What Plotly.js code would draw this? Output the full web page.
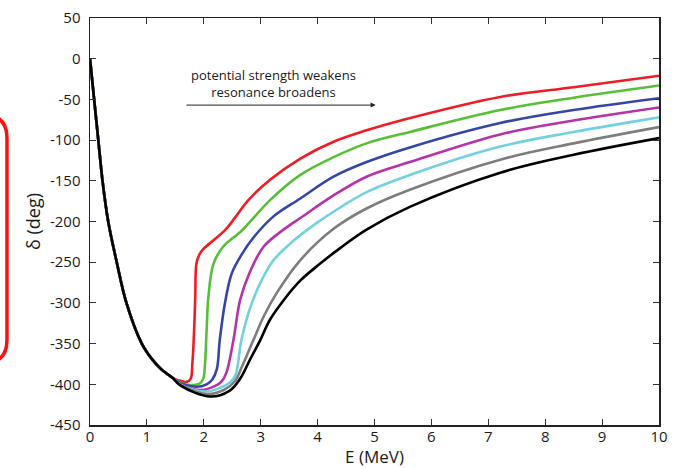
<!DOCTYPE html>
<html>
<head>
<meta charset="utf-8">
<script src="https://cdn.plot.ly/plotly-3.0.1.min.js"></script>
<style>html,body{margin:0;padding:0;background:#fff;}#chart{width:677px;height:468px;}</style>
</head>
<body>
<div id="chart"></div>
<script>
// Shared low-energy descent (all curves coincide here)
const commonE = [0, 0.07, 0.146, 0.22, 0.32, 0.47, 0.64, 0.91, 1.1, 1.26, 1.45];
const commonD = [0, -48, -100, -150, -200, -250, -300, -350, -370, -382, -392];

// Per-curve values beyond the common descent
const redE = [1.60, 1.70, 1.77, 1.80, 1.83, 1.85, 1.87, 1.92, 1.99, 2.17, 2.37, 2.52, 2.78, 3.16, 3.69, 4.28, 4.86, 5.51, 7.21, 8.5, 10];
const redD = [-396, -397, -393, -374, -333, -293, -252, -241, -234, -223, -211, -198, -174, -149, -123, -102, -88, -75, -47, -35, -21];

const greenE = [1.60, 1.76, 1.93, 1.99, 2.02, 2.05, 2.08, 2.17, 2.34, 2.67, 3.16, 3.69, 4.28, 4.86, 5.62, 7.21, 8.5, 10];
const greenD = [-398, -401, -399, -393, -376, -333, -293, -252, -231, -211, -174, -143, -121, -104, -90, -63, -48, -33];

const blueE = [1.60, 1.87, 2.05, 2.15, 2.23, 2.28, 2.37, 2.49, 2.67, 2.87, 3.22, 3.69, 4.28, 4.86, 5.62, 7.21, 8.5, 10];
const blueD = [-399, -403, -400, -394, -381, -346, -301, -264, -240, -220, -194, -172, -145, -127, -109, -79, -63, -48.5];

const magentaE = [1.60, 1.96, 2.20, 2.32, 2.40, 2.52, 2.64, 2.81, 3.05, 3.40, 3.69, 4.28, 4.86, 5.62, 7.21, 8.5, 10];
const magentaD = [-400, -407, -402, -396, -385, -346, -296, -262, -231, -210, -196, -168, -145, -127, -93, -76, -60];

const cyanE = [1.60, 2.02, 2.30, 2.45, 2.55, 2.66, 2.81, 2.99, 3.22, 3.57, 3.98, 4.28, 4.86, 5.62, 7.21, 8.5, 10];
const cyanD = [-401, -409, -404, -398, -390, -346, -307, -276, -248, -224, -202, -188, -164, -143, -108, -90, -72];

const grayE = [1.60, 2.05, 2.35, 2.55, 2.66, 2.87, 3.05, 3.28, 3.69, 4.28, 4.86, 5.62, 7.21, 8.5, 10];
const grayD = [-401, -412, -407, -396, -380, -346, -317, -288, -248, -209, -184, -161, -124, -104, -84];

const blackE = [1.60, 2.11, 2.45, 2.64, 2.81, 2.99, 3.16, 3.40, 3.69, 4.04, 4.39, 4.86, 5.62, 7.21, 8.5, 10];
const blackD = [-402, -415, -408, -393, -370, -346, -321, -297, -273, -252, -233, -210, -182, -140, -118, -97.5];

const xTicks = [0, 1, 2, 3, 4, 5, 6, 7, 8, 9, 10];
const yTicks = [50, 0, -50, -100, -150, -200, -250, -300, -350, -400, -450];
const yTickText = ['50', '0', '-50', '-100', '-150', '-200', '-250', '-300', '-350', '-400', '-450'];

const series = [
  {name: 'red', E: redE, D: redD, color: '#ee1c25'},
  {name: 'green', E: greenE, D: greenD, color: '#56bf37'},
  {name: 'blue', E: blueE, D: blueD, color: '#3546a6'},
  {name: 'magenta', E: magentaE, D: magentaD, color: '#b533a8'},
  {name: 'cyan', E: cyanE, D: cyanD, color: '#72d1dc'},
  {name: 'gray', E: grayE, D: grayD, color: '#7d7d7d'},
  {name: 'black', E: blackE, D: blackD, color: '#000000'}
];

const traces = series.map(s => ({
  type: 'scatter',
  mode: 'lines',
  name: s.name,
  x: commonE.concat(s.E),
  y: commonD.concat(s.D),
  line: {color: s.color, width: 2.6, shape: 'spline', smoothing: 1},
  hoverinfo: 'skip',
  showlegend: false
}));

// paper coords helpers for the decorative red box (plot area: px 90..659, py 18..425)
const L = 90, R = 659, T = 18, B = 425;
const px = v => ((v - L) / (R - L)).toFixed(4);
const py = v => ((B - v) / (B - T)).toFixed(4);
const boxPath = `M ${px(-40)},${py(115)} L ${px(-16)},${py(115)} Q ${px(7)},${py(115)} ${px(7)},${py(138)} ` +
  `L ${px(7)},${py(340)} Q ${px(7)},${py(363)} ${px(-16)},${py(363)} L ${px(-40)},${py(363)}`;

const font = {family: '"Open Sans", "Noto Sans", sans-serif', color: '#1a1a1a'};

const layout = {
  width: 677, height: 468,
  margin: {l: 90, r: 18, t: 18, b: 43, pad: 0},
  paper_bgcolor: '#ffffff', plot_bgcolor: '#ffffff',
  font: Object.assign({size: 15}, font),
  xaxis: {
    range: [0, 10], tickvals: xTicks, ticktext: xTicks.map(String),
    ticks: 'inside', ticklen: 6, tickwidth: 1, tickcolor: '#333',
    showline: true, linecolor: '#222', linewidth: 1.5, mirror: 'ticks',
    showgrid: false, zeroline: false, ticklabelstandoff: -3,
    tickfont: Object.assign({size: 15}, font),
    title: {text: 'E (MeV)', font: Object.assign({size: 17}, font), standoff: 0}
  },
  yaxis: {
    range: [-450, 50], tickvals: yTicks, ticktext: yTickText,
    ticks: 'inside', ticklen: 6, tickwidth: 1, tickcolor: '#333',
    showline: true, linecolor: '#222', linewidth: 1.5, mirror: 'ticks',
    showgrid: false, zeroline: false, ticklabelstandoff: 5,
    tickfont: Object.assign({size: 15}, font),
    title: {text: 'δ (deg)', font: Object.assign({size: 18}, font), standoff: 4}
  },
  shapes: [{
    type: 'path', xref: 'paper', yref: 'paper', path: boxPath,
    line: {color: '#ff1010', width: 3.5}
  }],
  annotations: [
    {
      x: 3.22, y: -31, xref: 'x', yref: 'y',
      text: 'potential strength weakens<br>resonance broadens',
      showarrow: false, align: 'center',
      font: Object.assign({size: 13}, font)
    },
    {
      x: 5.02, y: -57, xref: 'x', yref: 'y',
      ax: 1.67, ay: -57, axref: 'x', ayref: 'y',
      text: '', showarrow: true, arrowhead: 2, arrowsize: 1, arrowwidth: 1, arrowcolor: '#222',
      standoff: 0, startstandoff: 0
    }
  ]
};

Plotly.newPlot('chart', traces, layout, {staticPlot: true, displayModeBar: false});
</script>
</body>
</html>
